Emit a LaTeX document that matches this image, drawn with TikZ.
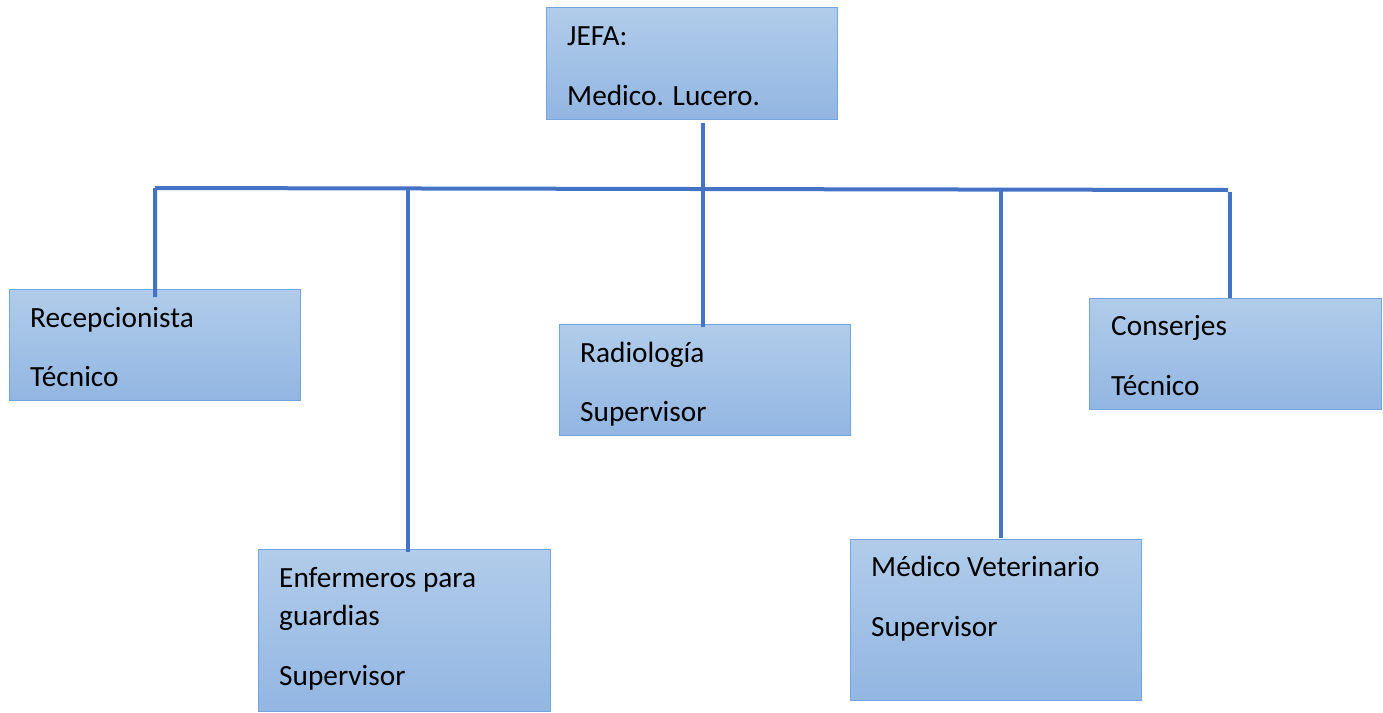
\documentclass[tikz,border=0pt]{standalone}
\usepackage{fontspec}
\setmainfont{Carlito}
\usetikzlibrary{calc}
\definecolor{linec}{HTML}{4472C4}
\definecolor{boxtop}{HTML}{B1CCEA}
\definecolor{boxbot}{HTML}{92B6E2}
\definecolor{boxedge}{HTML}{74A3DD}
\begin{document}
\begin{tikzpicture}[x=1pt,y=1pt,
  orgbox/.style={draw=boxedge, line width=1.3pt, top color=boxtop, bottom color=boxbot,
    rectangle, inner sep=0pt, anchor=north west},
  txt/.style={anchor=base west, inner sep=0pt, font=\fontsize{29.3}{34}\selectfont},
  conn/.style={draw=linec, line width=4pt}]
\useasboundingbox (0,0) rectangle (1383,-712);
% boxes
\node[orgbox, minimum width=291, minimum height=112] (jefa) at (546,-7) {};
\node[orgbox, minimum width=291, minimum height=111] (recep) at (9,-289) {};
\node[orgbox, minimum width=292, minimum height=162] (enf) at (258,-549) {};
\node[orgbox, minimum width=291, minimum height=111] (radio) at (559,-324) {};
\node[orgbox, minimum width=291, minimum height=161] (vet) at (850,-539) {};
\node[orgbox, minimum width=292, minimum height=111] (cons) at (1089,-298) {};
% texts
\node[txt] (t1) at ($(jefa.north west)+(21,-38)$) {JEFA:};
\node[txt] (t2) at ($(jefa.north west)+(21,-98)$) {Medico. Lucero.};
\node[txt] (t3) at ($(recep.north west)+(21,-38)$) {Recepcionista};
\node[txt] (t4) at ($(recep.north west)+(21,-97)$) {Técnico};
\node[txt] (t5) at ($(enf.north west)+(21,-38)$) {Enfermeros para};
\node[txt] (t6) at ($(enf.north west)+(21,-76)$) {guardias};
\node[txt] (t7) at ($(enf.north west)+(21,-136)$) {Supervisor};
\node[txt] (t8) at ($(radio.north west)+(21,-38)$) {Radiología};
\node[txt] (t9) at ($(radio.north west)+(21,-97)$) {Supervisor};
\node[txt] (t10) at ($(vet.north west)+(21,-37)$) {Médico Veterinario};
\node[txt] (t11) at ($(vet.north west)+(21,-97)$) {Supervisor};
\node[txt] (t12) at ($(cons.north west)+(22,-37)$) {Conserjes};
\node[txt] (t13) at ($(cons.north west)+(22,-97)$) {Técnico};
% connectors
\coordinate (busL) at (155,-188);
\coordinate (busR) at (1228,-190);
\draw[conn] (busL) -- (busR);
\draw[conn] ([xshift=10.5]jefa.south |- 0,-123) -- ([xshift=-2.5,yshift=-3]radio.north);
\draw[conn] (busL) -- ([yshift=-8]recep.north);
\draw[conn] ([xshift=3]enf.north |- 0,-189) -- ([xshift=3,yshift=-3]enf.north);
\draw[conn] ([xshift=4.5]vet.north |- 0,-191) -- ([xshift=4.5,yshift=1]vet.north);
\draw[conn] ([xshift=-5.5]cons.north |- 0,-192) -- ([xshift=-5.5]cons.north);
\end{tikzpicture}
\end{document}
